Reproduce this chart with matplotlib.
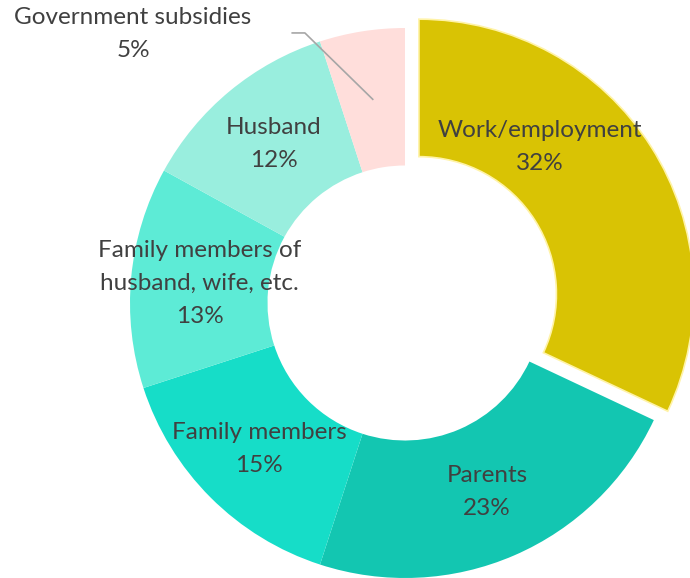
import numpy as np
import matplotlib.pyplot as plt

# data
labels = ['Work/employment', 'Parents', 'Family members',
          'Family members of\nhusband, wife, etc.', 'Husband', 'Government subsidies']
values = [32, 23, 15, 13, 12, 5]
colors = ['#D9C304', '#13C6B1', '#16DDC8', '#5DEBD6', '#99EEDE', '#FFDEDB']
explode = [0.06, 0, 0, 0, 0, 0]

plt.rcParams['font.family'] = ['Lato', 'DejaVu Sans']
txt_color = '#404040'
fs = 17.5

fig = plt.figure(figsize=(6.9, 5.78), dpi=100)
ax = fig.add_axes([0, 0, 1, 1])

wedges, _ = ax.pie(values, colors=colors, explode=explode, startangle=90,
                   counterclock=False, radius=1.0,
                   wedgeprops=dict(width=0.5, linewidth=0))
wedges[0].set_edgecolor('#FFF3A8')
wedges[0].set_linewidth(1.2)

# labels in the middle of the ring
total = sum(values)
cum = np.cumsum([0] + values[:-1])
for i, (lab, v) in enumerate(zip(labels, values)):
    mid = (cum[i] + v / 2) / total * 360
    r = 0.75
    if i == 0:
        mid = 41  # excel nudged this one
    text = f'{lab}\n{v}%'
    if i == len(values) - 1:
        # outside label with leader line
        a = np.radians(mid)
        x0, y0 = r * np.sin(a), r * np.cos(a)
        ax.plot([x0, -0.364, -0.41], [y0, 0.982, 0.982], color='#A6A6A6', lw=1.2)
        ax.text(-0.989, 0.978, text, ha='center', va='center', fontsize=fs,
                color=txt_color, linespacing=1.72)
        continue
    a = np.radians(mid)
    ax.text(r * np.sin(a), r * np.cos(a), text, ha='center', va='center',
            fontsize=fs, color=txt_color, linespacing=1.72)

ax.set_xlim(-405 / 275, 285 / 275)
ax.set_ylim(-1.0, 303 / 275)
ax.set_aspect('auto')
ax.axis('off')

fig.savefig('out.png', dpi=100)
